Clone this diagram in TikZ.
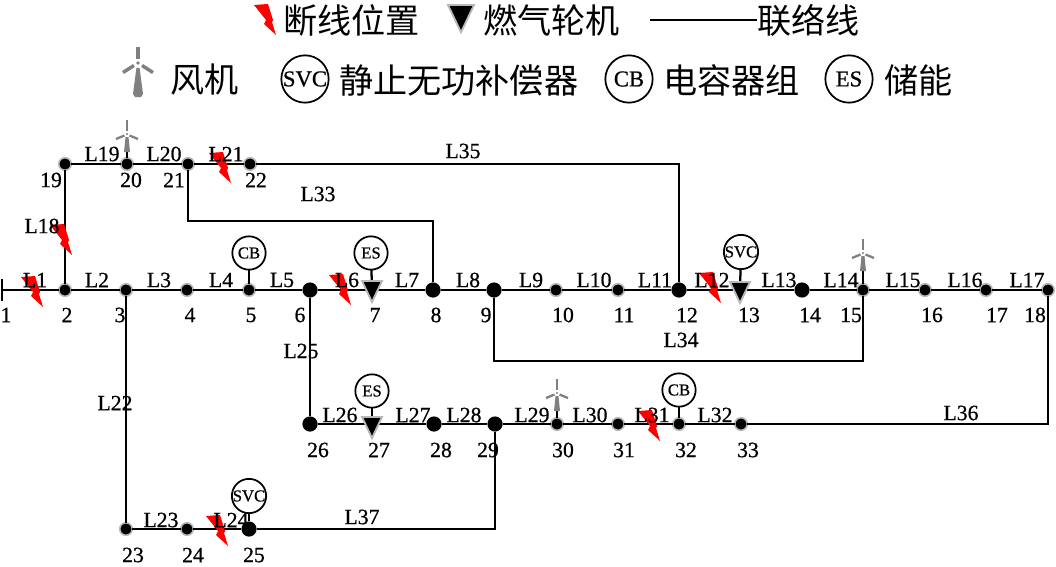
\documentclass[tikz,border=0pt]{standalone}
\usepackage{fontspec}
\setmainfont{Liberation Serif}
\newfontfamily\labfont[RawFeature={embolden=0.7}]{Liberation Serif}
\newfontfamily\cjk{Noto Sans CJK SC}
\definecolor{halo}{gray}{0.72}
\definecolor{turb}{gray}{0.5}
\tikzset{
  wire/.style={line width=1.7pt,black},
  smallbus/.style={circle,fill=black,draw=halo,line width=1.2pt,minimum size=9.4pt,inner sep=0pt,outer sep=0pt},
  bigbus/.style={circle,fill=black,minimum size=11.4pt,inner sep=0pt,outer sep=0pt},
  endtick/.style={rectangle,fill=black,minimum width=1.5pt,minimum height=16pt,inner sep=0pt,outer sep=0pt},
  lab/.style={font=\labfont\fontsize{16.3}{16.3}\selectfont,inner sep=0pt},
  smallcirc/.style={circle,draw=black,line width=1.3pt,fill=white,minimum size=25pt,inner sep=0pt,outer sep=0pt,font=\labfont\fontsize{12.5}{12.5}\selectfont},
  bigcirc/.style={circle,draw=black,line width=1.3pt,fill=white,minimum size=35.5pt,inner sep=0pt,font=\labfont\fontsize{17}{17}\selectfont},
  legendcjk/.style={font=\cjk\fontsize{25.6}{25.6}\selectfont,inner sep=0pt},
  bolt/.pic={\fill[red] (0,1) -- (14,0) -- (19,16) -- (18,18) -- (22,31) -- (10,20) -- (12,16) -- cycle;},
  gasunit/.pic={\fill[black,draw=halo,line width=1.4pt,line join=miter] (-10,-10) -- (10,-10) -- (0,11) -- cycle;},
  turbine/.pic={
    \fill[turb] (-1.8,-16) rectangle (1.8,-4);
    \fill[turb] (0,0) circle (1.8);
    \draw[turb,line width=2.6pt] (-4,2.5) -- (-15,9.5);
    \draw[turb,line width=2.6pt] (4,2.5) -- (15,9.5);
    \fill[turb] (-1.6,5) -- (1.6,5) -- (5,31) -- (3,34) -- (-3,34) -- (-5,31) -- cycle;
  },
  smallturbine/.pic={
    \fill[turb] (-1.2,-14) rectangle (1.2,-3);
    \fill[turb] (0,0) circle (1.2);
    \draw[turb,line width=1.7pt] (-2.5,1.5) -- (-11,5);
    \draw[turb,line width=1.7pt] (2.5,1.5) -- (11,5);
    \fill[turb] (-1.5,3) -- (1.5,3) -- (3,18) -- (-3,18) -- cycle;
  }
}
\begin{document}
\begin{tikzpicture}[x=0.75pt,y=-0.75pt]
\useasboundingbox (0,0) rectangle (1056,567);
% buses
\node[endtick] (b1) at (2,290) {};
\foreach \n/\x in {2/65,3/126,4/187,5/249,10/556,11/618,15/863,16/925,17/986,18/1048}
  \node[smallbus] (b\n) at (\x,290) {};
\foreach \n/\x in {6/310,8/433,9/494,12/679,14/802}
  \node[bigbus] (b\n) at (\x,290) {};
\coordinate (b7) at (372,290);
\coordinate (b13) at (740,290);
\foreach \n/\x in {19/65,20/127,21/188,22/250}
  \node[smallbus] (b\n) at (\x,164) {};
\foreach \n/\x in {26/310,28/434,29/495}
  \node[bigbus] (b\n) at (\x,424) {};
\coordinate (b27) at (372,424);
\foreach \n/\x in {30/557,31/618,32/679,33/741}
  \node[smallbus] (b\n) at (\x,424) {};
\node[smallbus] (b23) at (126,529) {};
\node[smallbus] (b24) at (187,529) {};
\node[bigbus] (b25) at (249,529) {};
% corners
\coordinate (c1) at (188,221);
\coordinate (c2) at (433,221);
\coordinate (c3) at (679,164);
\coordinate (c4) at (494,361);
\coordinate (c5) at (863,361);
\coordinate (c6) at (1048,424);
\coordinate (c7) at (495,529);
% device symbols
\node[smallcirc] (cb5) at (249,253) {CB};
\node[smallcirc] (es7) at (371,253) {ES};
\node[smallcirc] (svc13) at (741,252) {SVC};
\node[smallcirc] (es27) at (372,391) {ES};
\node[smallcirc] (cb32) at (679,390) {CB};
\node[smallcirc] (svc25) at (249,496) {SVC};
\coordinate (w20) at (127,150);
\coordinate (w15) at (863,270);
\coordinate (w30) at (557,410);
% wires
\draw[wire] (b1) -- (b2) -- (b3) -- (b4) -- (b5) -- (b6) -- (b7) -- (b8) -- (b9) -- (b10) -- (b11) -- (b12) -- (b13) -- (b14) -- (b15) -- (b16) -- (b17) -- (b18);
\draw[wire] (b2) -- (b19) -- (b20) -- (b21) -- (b22) -- (c3) -- (b12);
\draw[wire] (b21) -- (c1) -- (c2) -- (b8);
\draw[wire] (b9) -- (c4) -- (c5) -- (b15);
\draw[wire] (b6) -- (b26) -- (b27) -- (b28) -- (b29) -- (b30) -- (b31) -- (b32) -- (b33) -- (c6) -- (b18);
\draw[wire] (b3) -- (b23) -- (b24) -- (b25) -- (c7) -- (b29);
\draw[wire] (cb5) -- (b5);
\draw[wire] (es7) -- (b7);
\draw[wire] (svc13) -- (b13);
\draw[wire] (es27) -- (b27);
\draw[wire] (cb32) -- (b32);
\draw[wire] (svc25) -- (b25);
\draw[wire] (w20) -- (b20);
\draw[wire] (w15) -- (b15);
\draw[wire] (w30) -- (b30);
% generators and turbines
\pic at (372,291) {gasunit};
\pic at (740,292) {gasunit};
\pic at (372,427) {gasunit};
\pic at (127,134) {smallturbine};
\pic at (863,253) {smallturbine};
\pic at (557,393) {smallturbine};
% bolts
\pic at (209,152) {bolt};
\pic at (50,224) {bolt};
\pic at (21,276) {bolt};
\pic at (329,274) {bolt};
\pic at (699,272) {bolt};
\pic at (206,515) {bolt};
\pic at (638,410) {bolt};
% line labels
\foreach \t/\x/\y in {L1/35/280,L2/97/280,L3/159/280,L4/221/280,L5/282/280,L6/347/280,L7/407/280,L8/468/280,L9/531/280,L10/594/280,L11/655/280,L12/712/280,L13/779/280,L14/841/280,L15/903/280,L16/965/280,L17/1027/280,L18/42/226,L19/102/154,L20/164/154,L21/226/154,L35/463/151,L33/318/194,L34/681/340,L25/301/351,L22/115/403,L26/340/415,L27/413/415,L28/464/415,L29/532/415,L30/590/415,L31/652/415,L32/715/415,L36/961/413,L23/161/520,L24/231/520,L37/362/517}
  \node[lab] (t\t) at (\x,\y) {\t};
% bus numbers
\foreach \t/\x/\y in {1/6/315,2/67/315,3/120/315,4/190/315,5/251/315,6/300/315,7/375/315,8/436/315,9/486/315,10/563/315,11/624/315,12/687/315,13/749/315,14/810/315,15/851/315,16/932/315,17/997/315,18/1035/315,19/51/180,20/131/180,21/174/180,22/256/180,26/318/450,27/379/450,28/441/450,29/488/450,30/563/450,31/624/450,32/686/450,33/748/450,23/133/555,24/193/555,25/254/555}
  \node[lab] (n\t) at (\x,\y) {\t};
% legend
\pic at (254,4) {bolt};
\node[legendcjk,anchor=west] (lg1) at (283,20) {断线位置};
\pic[scale=1.3] at (461,18) {gasunit};
\node[legendcjk,anchor=west] (lg2) at (483,20) {燃气轮机};
\coordinate (ll1) at (650,20);
\coordinate (ll2) at (757,20);
\draw[line width=1.2pt] (ll1) -- (ll2);
\node[legendcjk,anchor=west] (lg3) at (757,20) {联络线};
\pic at (138,63) {turbine};
\node[legendcjk,anchor=west] (lg4) at (170,80) {风机};
\node[bigcirc] (lc1) at (305,79) {SVC};
\node[legendcjk,anchor=west] (lg5) at (339,80) {静止无功补偿器};
\node[bigcirc] (lc2) at (629,79) {CB};
\node[legendcjk,anchor=west] (lg6) at (663,80) {电容器组};
\node[bigcirc] (lc3) at (849,79) {ES};
\node[legendcjk,anchor=west] (lg7) at (884,80) {储能};
\end{tikzpicture}
\end{document}
